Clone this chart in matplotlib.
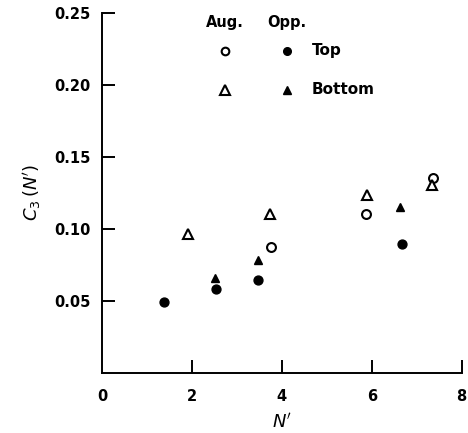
import matplotlib
matplotlib.use("Agg")
import matplotlib.pyplot as plt

# Data
aug_top_x = [3.77, 5.88, 7.37]
aug_top_y = [0.0875, 0.110, 0.135]
opp_top_x = [1.39, 2.53, 3.46, 6.67]
opp_top_y = [0.049, 0.058, 0.064, 0.089]
aug_bot_x = [1.91, 3.74, 5.89, 7.35]
aug_bot_y = [0.096, 0.110, 0.123, 0.130]
opp_bot_x = [2.51, 3.48, 6.63]
opp_bot_y = [0.066, 0.078, 0.115]

xticks = [0, 2, 4, 6, 8]
yticks = [0.05, 0.10, 0.15, 0.20, 0.25]
ytick_labels = ["0.05", "0.10", "0.15", "0.20", "0.25"]

plt.rcParams['font.family'] = ['DejaVu Sans']
plt.rcParams['mathtext.fontset'] = 'dejavusans'

fig = plt.figure(figsize=(4.68, 4.33), dpi=100)
ax = fig.add_axes([0.2179, 0.1393, 0.7686, 0.8318])

ms = 6.4
ax.plot(aug_top_x, aug_top_y, 'o', ms=ms, mfc='white', mec='black', mew=1.5, ls='none', clip_on=False)
ax.plot(opp_top_x, opp_top_y, 'o', ms=ms, mfc='black', mec='black', mew=1.0, ls='none', clip_on=False)
ax.plot(aug_bot_x, aug_bot_y, '^', ms=ms + 1, mfc='white', mec='black', mew=1.5, ls='none', clip_on=False)
ax.plot(opp_bot_x, opp_bot_y, '^', ms=ms, mfc='black', mec='black', mew=1.0, ls='none', clip_on=False)

ax.set_xlim(0, 8)
ax.set_ylim(0, 0.25)
ax.spines['top'].set_visible(False)
ax.spines['right'].set_visible(False)
for s in ('left', 'bottom'):
    ax.spines[s].set_linewidth(1.4)

fs = 10.5
ax.set_xticks(xticks)
ax.set_yticks(yticks)
ax.set_yticklabels(ytick_labels)
ax.tick_params(direction='in', length=9.5, width=1.4, labelsize=fs, pad=8)
ax.tick_params(axis='x', pad=12)
for lab in ax.get_xticklabels() + ax.get_yticklabels():
    lab.set_fontweight('bold')
# hide the tick mark at x=0 (it coincides with the spine)
ax.xaxis.get_major_ticks()[0].tick1line.set_visible(False)

ax.set_xlabel(r"$N'$", fontsize=13, labelpad=6)
ax.set_ylabel(r"$C_3\,(N')$", fontsize=13, labelpad=8)

# Legend drawn manually
t = ax.transAxes
ax.text(0.342, 0.972, "Aug.", transform=t, ha='center', va='center', fontsize=fs, fontweight='bold')
ax.text(0.515, 0.972, "Opp.", transform=t, ha='center', va='center', fontsize=fs, fontweight='bold')
ax.plot([0.342], [0.894], 'o', ms=5.5, mfc='white', mec='black', mew=1.5, transform=t, clip_on=False)
ax.plot([0.515], [0.894], 'o', ms=5.5, mfc='black', mec='black', transform=t, clip_on=False)
ax.plot([0.342], [0.786], '^', ms=6.5, mfc='white', mec='black', mew=1.5, transform=t, clip_on=False)
ax.plot([0.515], [0.786], '^', ms=5.5, mfc='black', mec='black', transform=t, clip_on=False)
ax.text(0.583, 0.894, "Top", transform=t, ha='left', va='center', fontsize=fs + 0.5, fontweight='bold')
ax.text(0.583, 0.786, "Bottom", transform=t, ha='left', va='center', fontsize=fs + 0.5, fontweight='bold')

fig.savefig("out.png", dpi=100)
